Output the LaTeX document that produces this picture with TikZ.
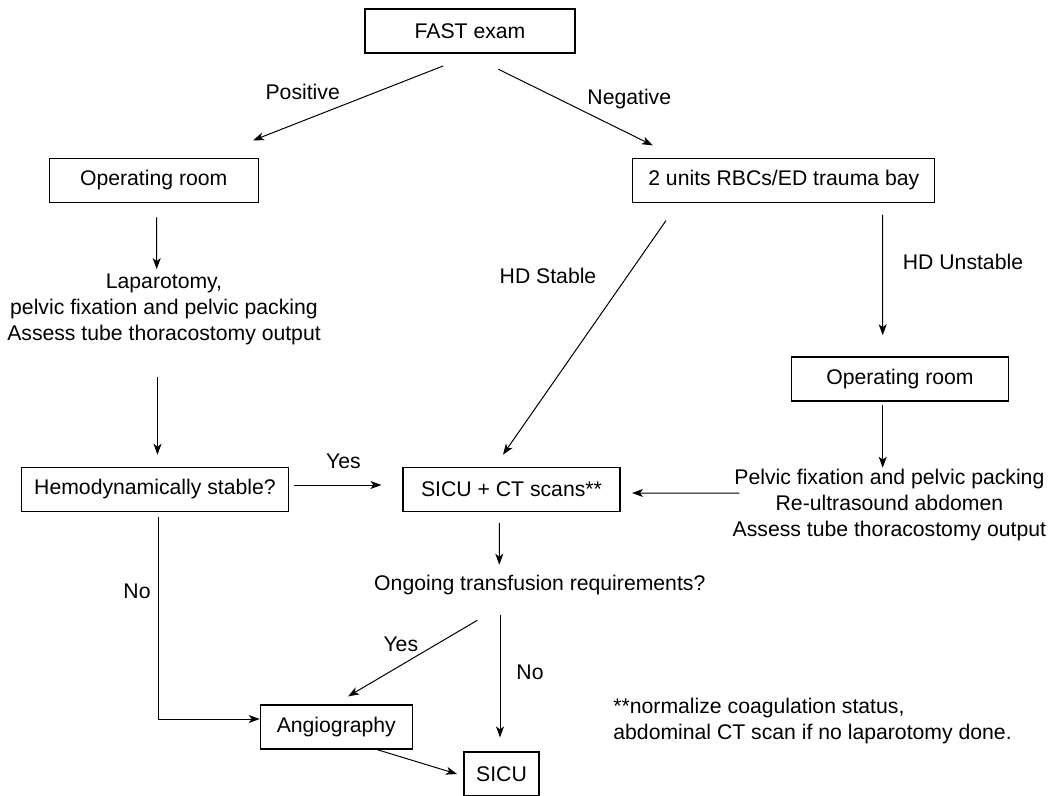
\documentclass[tikz,border=0pt]{standalone}
\usepackage{fontspec}
\setmainfont{Liberation Sans}
\usetikzlibrary{arrows.meta}

\tikzset{
  box/.style={draw, line width=0.6pt, minimum height=22pt, inner sep=0pt},
  txt/.style={align=center, inner sep=0pt},
  lbl/.style={inner sep=0pt},
  flow/.style={-{Stealth[length=5.5pt,width=4pt,inset=1.5pt]}, line width=0.5pt},
}

\begin{document}
\begin{tikzpicture}[x=0.5pt, y=-0.5pt, font=\fontsize{10.6pt}{13pt}\selectfont]
  \useasboundingbox (0,0) rectangle (1054,796);
  % boxes
  \node[box, minimum width=105pt] (fast) at (470,31) {FAST exam};
  \node[box, minimum width=104.5pt] (orl) at (153.7,180.3) {Operating room};
  \node[box, minimum width=151pt] (rbc) at (783.8,180.3) {2 units RBCs/ED trauma bay};
  \node[box, minimum width=133.3pt] (hemo) at (155,489.3) {Hemodynamically stable?};
  \node[box, minimum width=108.5pt] (sicuct) at (511.5,489.3) {SICU + CT scans**};
  \node[box, minimum width=108.3pt] (orr) at (900,379) {Operating room};
  \node[box, minimum width=76pt] (angio) at (336.3,727) {Angiography};
  \node[box, minimum width=37.5pt] (sicu) at (501.5,774) {SICU};
  % plain text steps
  \node[txt] (lap) at (164,309) {Laparotomy,\\pelvic fixation and pelvic packing\\Assess tube thoracostomy output};
  \node[txt] (pelv) at (889.4,505) {Pelvic fixation and pelvic packing\\Re-ultrasound abdomen\\Assess tube thoracostomy output};
  \node[txt] (ongo) at (539.8,585) {Ongoing transfusion requirements?};
  \node[txt, align=left, anchor=west] (note) at (613,721)
    {**normalize coagulation status,\\abdominal CT scan if no laparotomy done.};
  % edge labels
  \node[lbl] (pos) at (302.7,92) {Positive};
  \node[lbl] (neg) at (629.3,99) {Negative};
  \node[lbl] (hds) at (548,276) {HD Stable};
  \node[lbl] (hdu) at (963,262) {HD Unstable};
  \node[lbl] (yes1) at (343.5,461) {Yes};
  \node[lbl] (no1) at (137,591) {No};
  \node[lbl] (yes2) at (400.8,644) {Yes};
  \node[lbl] (no2) at (530,672) {No};
  % arrows
  \draw[flow] ([shift={(-26.7,12.3)}]fast.south) -- ([shift={(99.4,-17.3)}]orl.north);
  \draw[flow] ([shift={(28.3,15.6)}]fast.south) -- ([shift={(-131,-12.3)}]rbc.north);
  \draw[flow] ([shift={(3,14.4)}]orl.south) -- ([shift={(-7.3,-4)}]lap.north);
  \draw[flow] ([shift={(-6.5,32)}]lap.south) -- ([shift={(2.5,-12)}]hemo.north);
  \draw[flow] ([shift={(5,-4.3)}]hemo.east) -- ([shift={(-21,-4.3)}]sicuct.west);
  \draw[flow] ([shift={(-117.8,17.7)}]rbc.south) -- ([shift={(-8.5,-12)}]sicuct.north);
  \draw[flow] ([shift={(98.9,11.7)}]rbc.south) -- ([shift={(-17.3,-21.2)}]orr.north);
  \draw[flow] ([shift={(-17.3,3.6)}]orr.south) -- ([shift={(-6.7,-1)}]pelv.north);
  \draw[flow] ([shift={(7.2,-12)}]pelv.west) -- ([shift={(11.4,3.7)}]sicuct.east);
  \draw[flow] ([shift={(-12.2,11)}]sicuct.south) -- ([shift={(-40.5,-10)}]ongo.north);
  \draw[flow] ([shift={(-62.5,25)}]ongo.south) -- ([shift={(11.8,-8)}]angio.north);
  \draw[flow] ([shift={(-39.8,20)}]ongo.south) -- ([shift={(-1.5,-14)}]sicu.north);
  \draw[flow] ([shift={(3,5)}]hemo.south) |- ([shift={(0,-8)}]angio.west);
  \draw[flow] ([shift={(40.7,0)}]angio.south) -- ([shift={(-6.4,0)}]sicu.west);
\end{tikzpicture}
\end{document}
